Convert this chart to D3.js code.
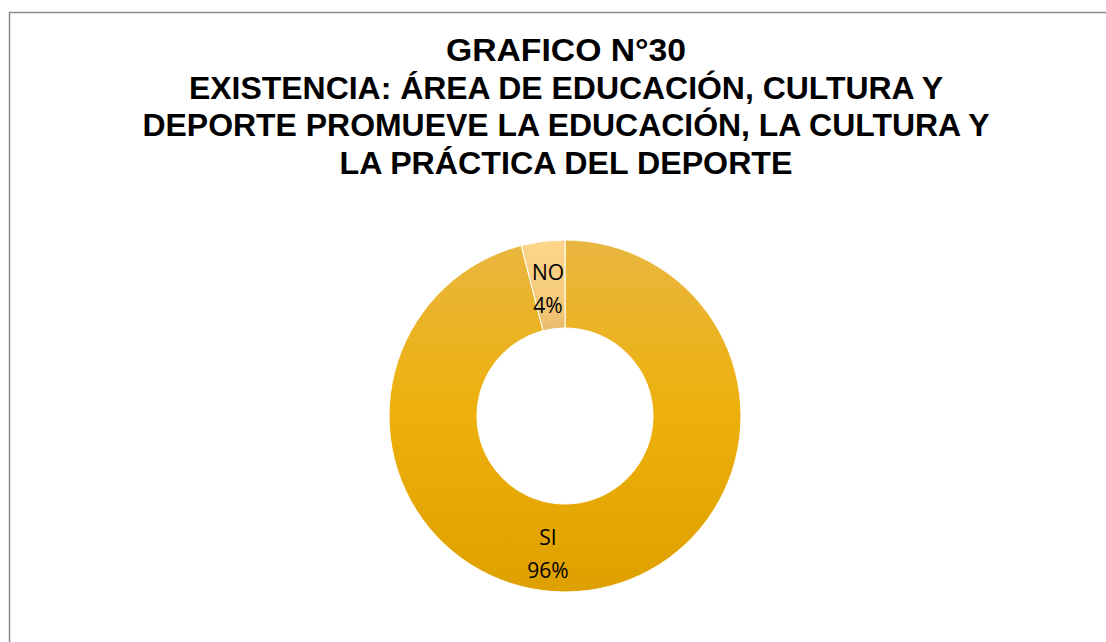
<!DOCTYPE html>
<html>
<head>
<meta charset="utf-8">
<script src="https://cdn.jsdelivr.net/npm/d3@7"></script>
<style>
  html, body { margin: 0; padding: 0; background: #fff; }
  svg { display: block; }
</style>
</head>
<body>
<svg id="chart" width="1106" height="642"></svg>
<script>
// Chart content
const titleLines = [
  "GRAFICO N°30",
  "EXISTENCIA: ÁREA DE EDUCACIÓN, CULTURA Y",
  "DEPORTE PROMUEVE LA EDUCACIÓN, LA CULTURA Y",
  "LA PRÁCTICA DEL DEPORTE"
];
const categories = ["SI", "NO"];
const percentValues = [96, 4];
const percentLabels = ["96%", "4%"];

const W = 1106, H = 642;
const svg = d3.select("#chart");

// Chart area frame (runs off the right and bottom edges)
svg.append("rect")
  .attr("x", 9.5).attr("y", 12.5)
  .attr("width", W + 20).attr("height", H + 20)
  .attr("fill", "#fff")
  .attr("stroke", "#8c8c8c")
  .attr("stroke-width", 1.5);

// Title
const titleBaselines = [61, 99, 136, 174];
const titleWidths = [240, 754, 847, 453];
const title = svg.append("g").attr("class", "title");
titleLines.forEach((line, i) => {
  title.append("text")
    .attr("x", 566)
    .attr("y", titleBaselines[i])
    .attr("text-anchor", "middle")
    .attr("font-family", "'Liberation Sans', Arial, sans-serif")
    .attr("font-weight", "bold")
    .attr("font-size", 32)
    .attr("fill", "#000")
    .attr("textLength", titleWidths[i])
    .attr("lengthAdjust", "spacingAndGlyphs")
    .text(line);
});

// Donut
const cx = 565, cy = 416;
const outerR = 176, innerR = 88;

const defs = svg.append("defs");
const gradStops = {
  SI: [["0%", "#e9b641"], ["50%", "#edb00a"], ["100%", "#dea000"]],
  NO: [["0%", "#fdd68c"], ["60%", "#f6cb7c"], ["100%", "#e8bc6a"]]
};
categories.forEach(c => {
  const g = defs.append("linearGradient")
    .attr("id", "grad-" + c)
    .attr("x1", 0).attr("y1", 0).attr("x2", 0).attr("y2", 1);
  gradStops[c].forEach(([o, col]) => g.append("stop").attr("offset", o).attr("stop-color", col));
});

const data = categories.map((c, i) => ({ cat: c, value: percentValues[i], label: percentLabels[i] }));
const pie = d3.pie().value(d => d.value).sort(null);
const arc = d3.arc().innerRadius(innerR).outerRadius(outerR);
const arcs = pie(data);

const g = svg.append("g").attr("transform", `translate(${cx},${cy})`);
g.selectAll("path.slice")
  .data(arcs)
  .join("path")
  .attr("class", "slice")
  .attr("d", arc)
  .attr("fill", d => `url(#grad-${d.data.cat})`)
  .attr("stroke", "#ffffff")
  .attr("stroke-width", 1);

// Data labels
const labelPos = {
  SI: [-17, 137],
  NO: [-17, -128]
};
const labels = g.selectAll("g.lbl")
  .data(arcs)
  .join("g")
  .attr("class", "lbl")
  .attr("transform", d => `translate(${labelPos[d.data.cat][0]},${labelPos[d.data.cat][1]})`);
labels.append("text")
  .attr("text-anchor", "middle")
  .attr("y", -8)
  .attr("font-family", "'Open Sans', 'Noto Sans', sans-serif")
  .attr("font-size", 21)
  .attr("fill", "#000")
  .text(d => d.data.cat);
labels.append("text")
  .attr("text-anchor", "middle")
  .attr("y", 25)
  .attr("font-family", "'Open Sans', 'Noto Sans', sans-serif")
  .attr("font-size", 21)
  .attr("fill", "#000")
  .text(d => d.data.label);
</script>
</body>
</html>
